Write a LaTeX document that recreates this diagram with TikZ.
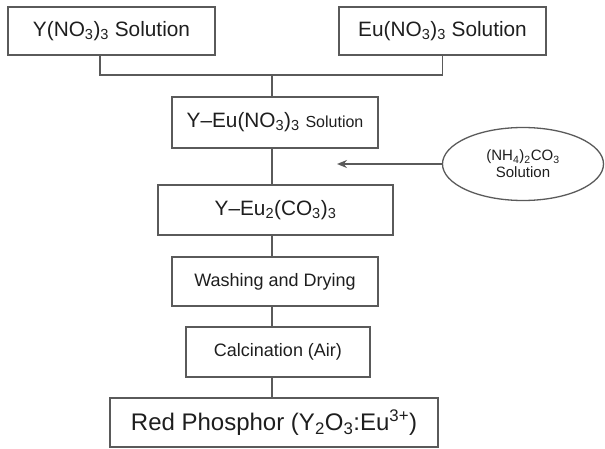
\documentclass[tikz,border=0pt]{standalone}
\usepackage{fontspec}
\setmainfont{Liberation Sans}
\usetikzlibrary{arrows,arrows.meta,shapes}
\definecolor{traitgris}{HTML}{5A5A5A}
\definecolor{textenoir}{HTML}{1E1E1E}
\tikzset{
  flownode/.style = {align=center, inner sep=0pt, text centered,
    draw=traitgris, line width=1.3pt, text=textenoir},
  fl_big/.style = {flownode, rectangle, font=\fontsize{20.8}{24}\selectfont},% grande boite
  fl_mid/.style = {flownode, rectangle, font=\fontsize{18}{20}\selectfont},% boite moyenne
  fl_end/.style = {flownode, rectangle, font=\fontsize{24}{28}\selectfont},% produit final
  fl_ell/.style = {flownode, ellipse, font=\fontsize{15}{17}\selectfont},% solution ajoutee
  lien/.style = {draw=traitgris, line width=1.3pt}% trait de liaison
}

\begin{document}
\begin{tikzpicture}[x=1pt,y=-1pt,>={Stealth[length=10pt,width=8pt]}]
\useasboundingbox (0,0) rectangle (605,449);
\node [fl_big, minimum width=207pt, minimum height=48pt] (yno) at (111.5,31)
  {Y(NO\textsubscript{3})\textsubscript{3} Solution};
\node [fl_big, minimum width=207pt, minimum height=48pt] (euno) at (442.5,31)
  {Eu(NO\textsubscript{3})\textsubscript{3} Solution};
\node [fl_big, minimum width=206pt, minimum height=51pt] (mix) at (275,122.5)
  {Y--Eu(NO\textsubscript{3})\textsubscript{3} {\fontsize{16}{20}\selectfont Solution}};
\node [fl_big, minimum width=235pt, minimum height=50pt] (carb) at (275.5,210)
  {Y--Eu\textsubscript{2}(CO\textsubscript{3})\textsubscript{3}};
\node [fl_mid, minimum width=206pt, minimum height=49pt] (wash) at (275,281.5)
  {Washing and Drying};
\node [fl_mid, minimum width=184pt, minimum height=50pt] (calc) at (278,352)
  {Calcination (Air)};
\node [fl_end, minimum width=328pt, minimum height=49pt] (phos) at (274,422.5)
  {Red Phosphor (Y\textsubscript{2}O\textsubscript{3}:Eu\textsuperscript{3+})};
\node [fl_ell, minimum width=161pt, minimum height=73pt] (amm) at (523,164)
  {(NH\textsubscript{4})\textsubscript{2}CO\textsubscript{3}\\Solution};
\coordinate (join) at (272,75);
\coordinate (feed) at (337,164);

\draw [lien] ([xshift=-11.5pt]yno.south) |- (join) -| (euno.south);
\draw [lien] (join) -- (join |- mix.north);
\draw [lien] (mix.south -| join) -- (carb.north -| join);
\draw [lien] (carb.south -| join) -- (wash.north -| join);
\draw [lien] (wash.south -| join) -- (calc.north -| join);
\draw [lien] (calc.south -| join) -- (phos.north -| join);
\draw [lien,->] (amm.west) -- (feed);
\end{tikzpicture}
\end{document}
